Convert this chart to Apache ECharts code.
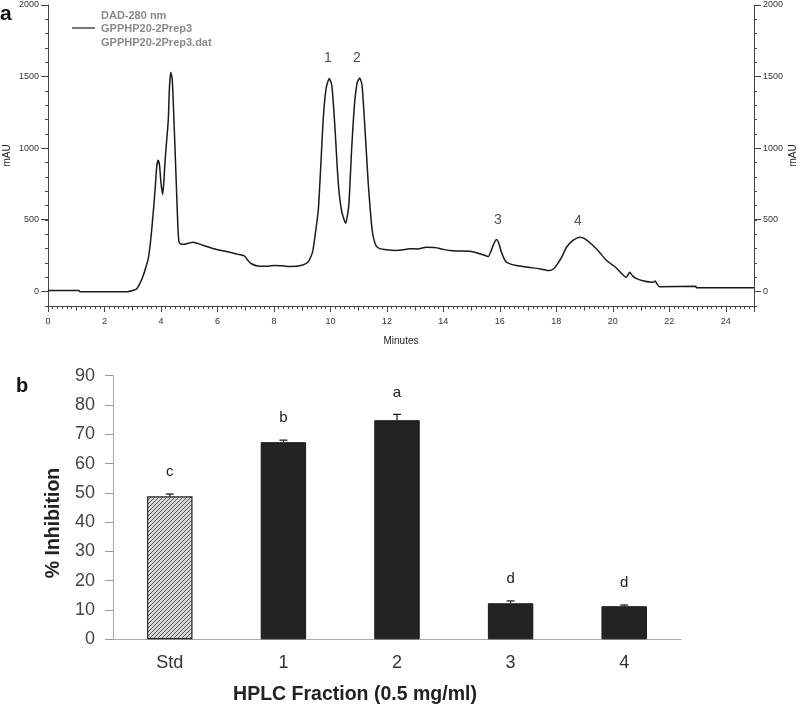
<!DOCTYPE html>
<html>
<head>
<meta charset="utf-8">
<script src="https://cdn.jsdelivr.net/npm/echarts@6/dist/echarts.min.js"></script>
<style>html,body{margin:0;padding:0;background:#fff}#c{width:800px;height:706px}</style>
</head>
<body>
<div id="c"></div>
<script>
// ---- Panel a: chromatogram (minutes, mAU) ----
const chromTime = [0,1.1,1.12,2.8,3.0,3.14,3.26,3.35,3.45,3.55,3.62,3.67,3.73,3.79,3.85,3.9,3.95,4.0,4.06,4.1,4.14,4.2,4.26,4.3,4.35,4.4,4.45,4.5,4.56,4.6,4.64,4.72,4.79,5.0,5.14,5.4,5.62,5.97,6.2,6.44,6.7,6.95,7.05,7.2,7.5,7.8,8.0,8.3,8.6,9.0,9.2,9.3,9.38,9.45,9.57,9.66,9.75,9.85,9.96,10.05,10.15,10.28,10.4,10.54,10.65,10.75,10.85,10.95,11.04,11.12,11.22,11.34,11.45,11.52,11.62,11.75,12.0,12.3,12.6,12.8,13.1,13.4,13.7,14.0,14.23,14.6,14.94,15.2,15.4,15.59,15.7,15.8,15.88,15.95,16.05,16.15,16.24,16.59,17.0,17.4,17.77,17.9,18.0,18.2,18.36,18.6,18.83,19.0,19.3,19.55,19.78,20.1,20.48,20.6,20.7,20.84,21.1,21.43,21.5,21.56,21.66,22.94,22.96,25];
const chromMAU  = [8,8,0,0,8,19,60,100,160,230,330,427,560,706,870,916,880,760,678,760,895,1050,1200,1420,1530,1480,1250,986,660,450,345,330,330,340,345,330,315,294,285,275,262,250,225,195,178,178,182,180,175,185,205,240,287,380,566,880,1217,1420,1487,1440,1180,755,560,478,600,986,1300,1460,1490,1440,1150,755,480,380,320,300,292,288,292,300,298,310,308,295,287,284,282,270,258,245,290,340,364,345,280,230,205,182,170,160,147,160,182,245,310,360,380,370,322,270,217,170,100,135,110,91,75,65,75,55,35,37,28,28];
const peakNames = ['1','2','3','4'];
const peakLabelTime = [9.91,10.94,15.93,18.76];
const peakLabelMAU = [1630,1630,496,490];
const minuteTicks = [0,2,4,6,8,10,12,14,16,18,20,22,24];
const mauTicks = [0,500,1000,1500,2000];
const legendLines = ['DAD-280 nm','GPPHP20-2Prep3','GPPHP20-2Prep3.dat'];

// ---- Panel b: inhibition bars ----
const fractions = ['Std','1','2','3','4'];
const inhibition = [48.8, 67.3, 74.8, 12.3, 11.3];
const inhibitionErr = [0.8, 0.7, 2.0, 0.8, 0.4];
const sigLetters = ['c','b','a','d','d'];

const chromData = chromTime.map((t,i)=>[t, chromMAU[i]]);
const peakData = peakNames.map((n,i)=>({value:[peakLabelTime[i], peakLabelMAU[i]], name:n}));

// hatch pattern for Std bar
const pc = document.createElement('canvas');
pc.width = 4; pc.height = 4;
const g = pc.getContext('2d');
g.fillStyle = '#d8d8d8'; g.fillRect(0,0,4,4);
g.strokeStyle = '#555'; g.lineWidth = 1;
g.beginPath(); g.moveTo(0,4); g.lineTo(4,0); g.stroke();
g.beginPath(); g.moveTo(-1,1); g.lineTo(1,-1); g.stroke();
g.beginPath(); g.moveTo(3,5); g.lineTo(5,3); g.stroke();

const FONT = 'Liberation Sans, Arial, sans-serif';
const chart = echarts.init(document.getElementById('c'), null, {renderer:'canvas'});

const topGrid = {left:48, right:46, top:5, bottom:400, outerBoundsMode:'none', containLabel:false};
const axisTxt = {color:'#333', fontSize:9, fontFamily:FONT};

chart.setOption({
  animation:false,
  backgroundColor:'#fff',
  grid:[
    Object.assign({}, topGrid),                // 0 main chromatogram
    Object.assign({}, topGrid),                // 1 extra x ticks (odd minutes)
    {left:48, right:46, top:5, bottom:415, outerBoundsMode:'none', containLabel:false},    // 2 major mAU ticks
    {left:113, right:119, top:375.7, bottom:66.7, outerBoundsMode:'none', containLabel:false} // 3 bars
  ],
  xAxis:[
    {gridIndex:0, type:'value', min:0, max:25, interval:2, position:'bottom',
     axisLine:{onZero:false, lineStyle:{color:'#444'}}, splitLine:{show:false},
     axisTick:{length:6, lineStyle:{color:'#444'}},
     minorTick:{show:true, splitNumber:12, length:3, lineStyle:{color:'#444'}},
     axisLabel:Object.assign({margin:11, formatter:v=>minuteTicks.includes(v)?String(v):''}, axisTxt),
     name:'Minutes', nameLocation:'middle', nameGap:30, nameMoveOverlap:false,
     nameTextStyle:{color:'#222', fontSize:10, fontFamily:FONT}},
    {gridIndex:1, type:'value', min:0, max:25, interval:1, position:'bottom',
     axisLine:{show:false, onZero:false}, splitLine:{show:false}, axisLabel:{show:false},
     axisTick:{length:4.5, lineStyle:{color:'#444'}}},
    {gridIndex:2, type:'value', min:0, max:25, show:false},
    {gridIndex:3, type:'category', data:fractions,
     axisLine:{lineStyle:{color:'#aaa', width:1}},
     axisTick:{length:5, lineStyle:{color:'#999'}},
     axisLabel:{color:'#333', fontSize:18, fontFamily:FONT, margin:15}}
  ],
  yAxis:[
    {gridIndex:0, type:'value', min:-100, max:2000, interval:100, position:'left',
     axisLine:{show:true, onZero:false, lineStyle:{color:'#444'}}, splitLine:{show:false},
     axisTick:{show:true, length:3, lineStyle:{color:'#444'}},
     axisLabel:Object.assign({margin:9, formatter:v=>mauTicks.includes(v)?String(v):''}, axisTxt),
     name:'mAU', nameLocation:'middle', nameGap:36, nameRotate:90, nameMoveOverlap:false,
     nameTextStyle:{color:'#222', fontSize:10, fontFamily:FONT}},
    {gridIndex:0, type:'value', min:-100, max:2000, interval:100, position:'right',
     axisLine:{show:true, onZero:false, lineStyle:{color:'#444'}}, splitLine:{show:false},
     axisTick:{show:true, length:3, lineStyle:{color:'#444'}},
     axisLabel:Object.assign({margin:9, formatter:v=>mauTicks.includes(v)?String(v):''}, axisTxt),
     name:'mAU', nameLocation:'middle', nameGap:34, nameRotate:90, nameMoveOverlap:false,
     nameTextStyle:{color:'#222', fontSize:10, fontFamily:FONT}},
    {gridIndex:1, type:'value', min:-100, max:2000, show:false},
    {gridIndex:2, type:'value', min:0, max:2000, interval:500, position:'left',
     axisLine:{show:false, onZero:false}, splitLine:{show:false}, axisLabel:{show:false},
     axisTick:{show:true, length:7, lineStyle:{color:'#444'}}},
    {gridIndex:2, type:'value', min:0, max:2000, interval:500, position:'right',
     axisLine:{show:false, onZero:false}, splitLine:{show:false}, axisLabel:{show:false},
     axisTick:{show:true, length:7, lineStyle:{color:'#444'}}},
    {gridIndex:3, type:'value', min:0, max:90, interval:10,
     axisLine:{show:true, lineStyle:{color:'#aaa'}}, splitLine:{show:false},
     axisTick:{show:true, length:8, lineStyle:{color:'#999'}},
     axisLabel:{color:'#444', fontSize:18, fontFamily:FONT, margin:18}}
  ],
  series:[
    {type:'line', xAxisIndex:0, yAxisIndex:0, data:chromData, showSymbol:false, smooth:0.2,
     lineStyle:{color:'#1a1a1a', width:1.5}, z:5},
    {type:'scatter', xAxisIndex:0, yAxisIndex:0, data:peakData, symbolSize:0,
     label:{show:true, position:'inside', formatter:p=>p.name, color:'#222', fontSize:14, fontFamily:FONT}},
    {type:'bar', xAxisIndex:3, yAxisIndex:5, barWidth:'40%',
     data:inhibition.map((v,i)=>({value:v, itemStyle: i===0 ?
       {color:{image:pc, repeat:'repeat'}, borderColor:'#222', borderWidth:1.2} :
       {color:'#232323', borderColor:'#1a1a1a', borderWidth:1}}))},
    {type:'custom', xAxisIndex:3, yAxisIndex:5,
     data:inhibition.map((v,i)=>[i, v, inhibitionErr[i], sigLetters[i]]),
     renderItem:(params, api)=>{
       const i = api.value(0), v = api.value(1), e = api.value(2);
       const p0 = api.coord([i, v]); const p1 = api.coord([i, v+e]);
       const w = 4;
       return {type:'group', children:[
         {type:'line', shape:{x1:p0[0], y1:p0[1], x2:p1[0], y2:p1[1]}, style:{stroke:'#111', lineWidth:1.2}},
         {type:'line', shape:{x1:p1[0]-w, y1:p1[1], x2:p1[0]+w, y2:p1[1]}, style:{stroke:'#111', lineWidth:1.2}},
         {type:'text', style:{text:sigLetters[params.dataIndex], x:p1[0], y:p1[1]-22, align:'center', verticalAlign:'middle',
           fill:'#222', fontSize:15, fontFamily:FONT}}
       ]};
     }, z:10}
  ],
  graphic:[
    {type:'text', x:0, y:14.6, style:{text:'a', fontSize:21, fontWeight:'bold', fill:'#111', fontFamily:FONT, verticalAlign:'middle'}},
    {type:'text', x:16, y:386.7, style:{text:'b', fontSize:20, fontWeight:'bold', fill:'#111', fontFamily:FONT, verticalAlign:'middle'}},
    {type:'line', shape:{x1:72, y1:28, x2:95, y2:28}, style:{stroke:'#222', lineWidth:1.2}},
    {type:'text', x:101, y:16, style:{text:legendLines[0], fontSize:11, fontWeight:'bold', fill:'#8a8a8a', fontFamily:FONT, verticalAlign:'middle'}},
    {type:'text', x:101, y:29, style:{text:legendLines[1], fontSize:11, fontWeight:'bold', fill:'#8a8a8a', fontFamily:FONT, verticalAlign:'middle'}},
    {type:'text', x:101, y:43, style:{text:legendLines[2], fontSize:11, fontWeight:'bold', fill:'#8a8a8a', fontFamily:FONT, verticalAlign:'middle'}},
    {type:'text', x:355, y:695, style:{text:'HPLC Fraction (0.5 mg/ml)', fontSize:19.5, fontWeight:'bold', fill:'#222', fontFamily:FONT, align:'center', verticalAlign:'middle'}},
    {type:'text', x:54, y:523, rotation:Math.PI/2, style:{text:'% Inhibition', fontSize:19.5, fontWeight:'bold', fill:'#222', fontFamily:FONT, align:'center', verticalAlign:'middle'}}
  ]
});
</script>
</body>
</html>
